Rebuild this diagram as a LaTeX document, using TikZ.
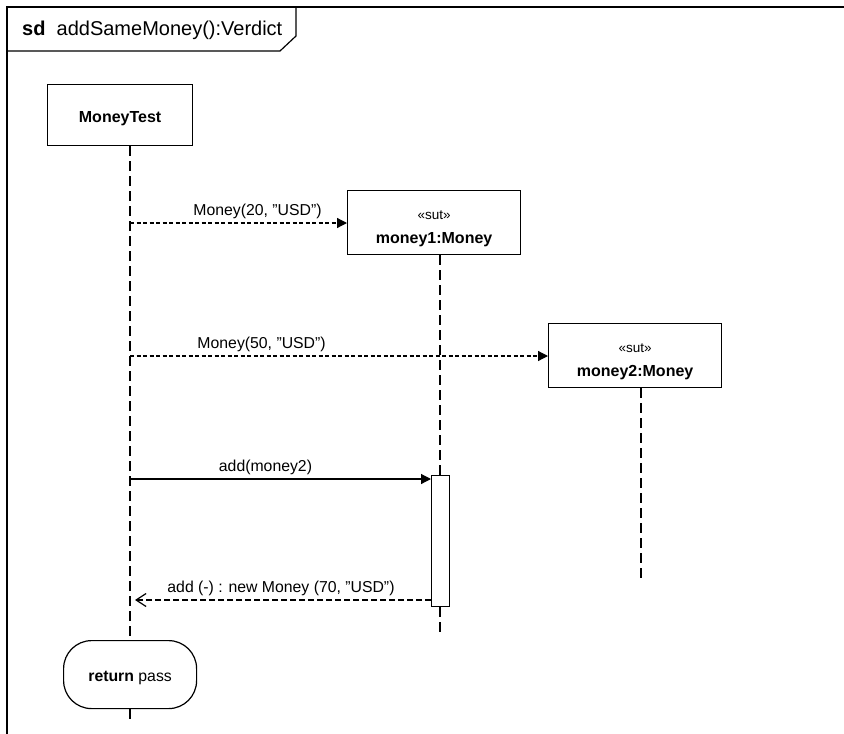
\documentclass[tikz,border=0pt]{standalone}
\usepackage{fontspec}
\setmainfont{Liberation Sans}
\usetikzlibrary{arrows.meta}
\begin{document}
\begin{tikzpicture}[x=1pt,y=-1pt,
  lbl/.style={font=\fontsize{15.8}{18}\selectfont},
  txt/.style={font=\fontsize{16}{18}\selectfont,inner sep=0pt},
  sut/.style={font=\fontsize{13.5}{15}\selectfont,inner sep=0pt},
  obj/.style={draw,line width=1.2pt,minimum width=173pt,minimum height=64pt,inner sep=0pt,anchor=north west},
  lifeline/.style={line width=1.3pt,dash pattern=on 10pt off 5pt},
  callmsg/.style={line width=1.2pt,dash pattern=on 4pt off 2.5pt,-{Triangle[length=10pt,width=10pt]}},
  syncmsg/.style={line width=1.2pt,-{Triangle[length=10pt,width=10pt]}},
  retmsg/.style={line width=1.2pt,dash pattern=on 6pt off 3pt,-{Straight Barb[length=10pt,width=13pt]}}
]
\useasboundingbox (0,0) rectangle (844,734);
% frame
\draw[line width=1.2pt] (844,7) -- (7,7) -- (7,734);
\draw[line width=1.2pt] (7,51) -- (280,51) -- (296,36) -- (296,7);
\node[anchor=west,font=\fontsize{20}{22}\selectfont,inner sep=0pt] (title) at (22,30) {\textbf{sd}\ \ addSameMoney():Verdict};
% objects
\node[obj,minimum width=145pt,minimum height=61pt] (mt) at (47,84) {};
\node[txt] (mtname) at ([yshift=-35pt]mt.north) {\textbf{MoneyTest}};
\node[obj] (m1) at (347,190) {};
\node[sut] (m1st) at ([yshift=-25pt]m1.north) {«sut»};
\node[txt] (m1name) at ([yshift=-50pt]m1.north) {\textbf{money1:Money}};
\node[obj] (m2) at (548,323) {};
\node[sut] (m2st) at ([yshift=-25pt]m2.north) {«sut»};
\node[txt] (m2name) at ([yshift=-50pt]m2.north) {\textbf{money2:Money}};
% activation
\node[draw,line width=1.2pt,fill=white,minimum width=18pt,minimum height=131pt,inner sep=0pt,anchor=north west] (act) at (431,475) {};
% return pass
\node[draw,line width=1.2pt,rounded corners=28pt,minimum width=133pt,minimum height=68pt,anchor=north west] (ret) at (63,640) {};
\node[lbl,inner sep=0pt] (rettxt) at ([yshift=-38pt]ret.north) {\textbf{return} pass};
% lifeline end coordinates
\coordinate (mtend) at (130,722);
\coordinate (m1end) at (440,632);
\coordinate (m2end) at (641,578);
\draw[lifeline] (mt.south -| 130,0) -- (ret.north -| 130,0);
\draw[lifeline] (ret.south -| 130,0) -- (mtend);
\draw[lifeline] (m1.south -| 440,0) -- (act.north -| 440,0);
\draw[lifeline] (act.south -| 440,0) -- (m1end);
\draw[lifeline] (m2.south -| 641,0) -- (m2end);
% messages
\coordinate (s1) at (130,223);
\coordinate (s2) at (130,356);
\coordinate (s3) at (130,479);
\coordinate (s4) at (130,600);
\draw[callmsg] (s1) -- (m1.west |- s1) node[lbl,midway,above=0pt,xshift=19pt] {Money(20, ”USD”)};
\draw[callmsg] (s2) -- (m2.west |- s2) node[lbl,pos=0.31,above=0pt,xshift=2pt] {Money(50, ”USD”)};
\draw[syncmsg] (s3) -- (act.west |- s3) node[lbl,midway,above=0pt,xshift=-15pt] {add(money2)};
\draw[retmsg] (act.west |- s4) -- ([xshift=5pt]s4) node[lbl,midway,above=0pt,xshift=-2pt] {add (-) : new Money (70, ”USD”)};
\end{tikzpicture}
\end{document}
